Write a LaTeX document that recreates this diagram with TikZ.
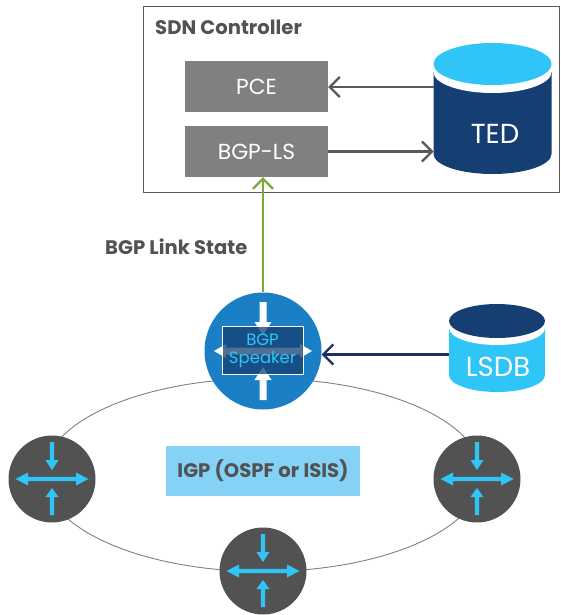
\documentclass[tikz,border=0pt]{standalone}
\usepackage{fontspec}
\setmainfont{Poppins}
\usetikzlibrary{arrows.meta,shapes.geometric}
\definecolor{cyanb}{HTML}{30C5F7}
\definecolor{navyb}{HTML}{153F72}
\definecolor{arrowg}{HTML}{595959}
\definecolor{graybox}{HTML}{808080}
\definecolor{darkc}{HTML}{525252}
\definecolor{speaker}{HTML}{1A7FC4}
\definecolor{igpbox}{HTML}{84D3F7}
\definecolor{greenl}{HTML}{7FA83C}
\definecolor{navyl}{HTML}{1E2F66}
\tikzset{
  x=1pt,y=-1pt,
  graynode/.style={fill=graybox,minimum width=143pt,minimum height=51pt,inner sep=0pt,text=white,font=\fontsize{21.8}{24}\selectfont},
  routernode/.style={circle,fill=darkc,minimum size=87pt,inner sep=0pt},
  openarrow/.style={-{Straight Barb[length=10pt,width=20pt,line width=2.2pt]},line width=2.2pt},
  bluetip/.style={fill=cyanb},
  lbl/.style={text=darkc,font=\fontsize{19.6}{22}\selectfont\bfseries},
  dbtext/.style={inner sep=0pt,text=white,font=\fontsize{27.5}{30}\selectfont},
}
\newcommand{\routericon}[2]{%
  \fill[bluetip] (#1-36.5,#2) -- (#1-24,#2-6.5) -- (#1-24,#2-2.1) -- (#1+24,#2-2.1) -- (#1+24,#2-6.5) -- (#1+36.5,#2) -- (#1+24,#2+6.5) -- (#1+24,#2+2.1) -- (#1-24,#2+2.1) -- (#1-24,#2+6.5) -- cycle;
  \fill[bluetip] (#1-2.2,#2-37) -- (#1+2.2,#2-37) -- (#1+2.2,#2-19) -- (#1+6.5,#2-19) -- (#1,#2-9) -- (#1-6.5,#2-19) -- (#1-2.2,#2-19) -- cycle;
  \fill[bluetip] (#1-2.2,#2+36) -- (#1+2.2,#2+36) -- (#1+2.2,#2+18) -- (#1+6.5,#2+18) -- (#1,#2+9) -- (#1-6.5,#2+18) -- (#1-2.2,#2+18) -- cycle;
}
\begin{document}
\begin{tikzpicture}
\useasboundingbox (0,0) rectangle (560,615);
% controller frame
\node[draw=arrowg,line width=0.9pt,minimum width=416pt,minimum height=186pt,inner sep=0pt] (frame) at (351,99) {};
\node[lbl,anchor=west,inner sep=0pt] (sdn) at (155,27) {SDN Controller};
\node[graynode] (pce) at (256.5,86.5) {PCE};
\node[graynode] (bgpls) at (256.5,151.5) {BGP-LS};
% TED
\fill[navyb] (433.5,72) -- (433.5,154) arc[start angle=180,end angle=0,x radius=59,y radius=20] -- (551.5,72) -- cycle;
\fill[white] (433.5,64) -- (433.5,72) arc[start angle=180,end angle=0,x radius=59,y radius=21] -- (551.5,64) -- cycle;
\fill[cyanb] (492.5,64) ellipse[x radius=59,y radius=21];
\node[dbtext] (ted) at (495,134) {TED};
\coordinate (tedw1) at (433.5,87);
\coordinate (tedw2) at (433.5,151.5);
% connectors in controller
\draw[openarrow,draw=arrowg] (tedw1) -- (pce.east |- tedw1);
\draw[openarrow,draw=arrowg] (bgpls.east) -- (tedw2);
% IGP ring
\node[draw=gray,line width=0.9pt,ellipse,minimum width=438pt,minimum height=193pt,inner sep=0pt] (ring) at (263,475) {};
% routers
\node[routernode] (r1) at (52,479) {};
\node[routernode] (r2) at (477,479) {};
\node[routernode] (r3) at (263,571) {};
\routericon{52}{479}
\routericon{477}{479}
\routericon{263}{571}
\node[fill=igpbox,minimum width=194pt,minimum height=50pt,inner sep=0pt,lbl] (igp) at (263,471) {IGP (OSPF or ISIS)};
% speaker
\node[circle,fill=speaker,minimum size=117pt,inner sep=0pt] (spk) at (263,351) {};
\fill[white] (259.5,302) -- (266.5,302) -- (266.5,322) -- (271.5,322) -- (263,335) -- (254.5,322) -- (259.5,322) -- cycle;
\fill[white] (259.5,400) -- (266.5,400) -- (266.5,380) -- (271.5,380) -- (263,367) -- (254.5,380) -- (259.5,380) -- cycle;
\fill[white] (214,351) -- (226,344) -- (226,347.5) -- (300,347.5) -- (300,344) -- (312,351) -- (300,358) -- (300,354.5) -- (226,354.5) -- (226,358) -- cycle;
\fill[navyb,fill opacity=0.75] (222,326.5) rectangle (303,374);
\draw[white,line width=0.9pt] (222,326.5) rectangle (303,374);
\node[inner sep=0pt,align=center,text=cyanb,font=\fontsize{16.5}{18}\selectfont] (spktxt) at (262.5,351) {BGP\\Speaker};
% LSDB
\fill[cyanb] (449,327) -- (449,375) arc[start angle=180,end angle=0,x radius=48,y radius=17] -- (545,327) -- cycle;
\fill[white] (449,321) -- (449,328) arc[start angle=180,end angle=0,x radius=48,y radius=17] -- (545,321) -- cycle;
\fill[navyb] (497,321) ellipse[x radius=48,y radius=17];
\node[dbtext] (lsdb) at (498,367) {LSDB};
\coordinate (lsdbw) at (449,354.5);
% connectors
\draw[openarrow,draw=navyl] (lsdbw) -- (spk.east |- lsdbw);
\draw[openarrow,draw=greenl] (spk.north) -- (spk.north |- bgpls.south);
\node[lbl,anchor=west,inner sep=0pt] (bls) at (105,247) {BGP Link State};
\end{tikzpicture}
\end{document}
